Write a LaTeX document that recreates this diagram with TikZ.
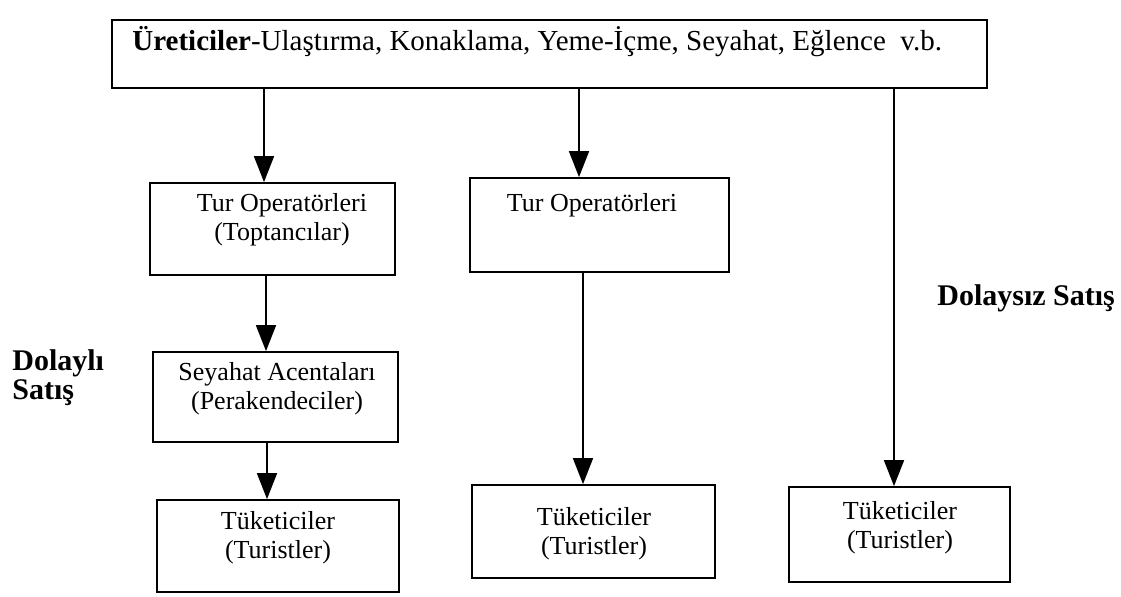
\documentclass[tikz,border=0pt]{standalone}
\usepackage{fontspec}
\setmainfont{Liberation Serif}
\usetikzlibrary{arrows.meta}
\begin{document}
\begin{tikzpicture}[x=0.5pt,y=-0.5pt,
  box/.style={draw, line width=0.9pt, inner sep=0pt},
  txt/.style={align=center, inner sep=0pt, font=\fontsize{13}{14.5}\selectfont},
  side/.style={align=left, inner sep=0pt, font=\fontsize{15}{15}\selectfont\bfseries},
  arr/.style={line width=0.9pt, -{Triangle[width=10pt,length=13pt]}}]
\useasboundingbox (0,0) rectangle (1121,596);

% producers
\node[box, minimum width=437.5pt, minimum height=34pt] (top) at (549.5,54) {};
\node[anchor=base west, inner sep=0pt, font=\fontsize{14.5}{16}\selectfont] (topT) at (132,50)
  {\textbf{Üreticiler}-Ulaştırma, Konaklama, Yeme-İçme, Seyahat, Eğlence\ \ v.b.};

% indirect channel
\node[box, minimum width=122.5pt, minimum height=46pt] (lto) at (272.5,229) {};
\node[txt] (ltoT) at (282,219.5) {Tur Operatörleri\\(Toptancılar)};
\node[box, minimum width=122.5pt, minimum height=45pt] (sey) at (275.5,397) {};
\node[txt] (seyT) at (277,389) {Seyahat Acentaları\\(Perakendeciler)};
\node[box, minimum width=121pt, minimum height=46pt] (ltk) at (278,546) {};
\node[txt] (ltkT) at (278,538) {Tüketiciler\\(Turistler)};

% tour operator channel
\node[box, minimum width=129.5pt, minimum height=47pt] (mto) at (599.5,225) {};
\node[txt] (mtoT) at (592,205) {Tur Operatörleri};
\node[box, minimum width=121.5pt, minimum height=46.5pt] (mtk) at (593.5,531.5) {};
\node[txt] (mtkT) at (594,534) {Tüketiciler\\(Turistler)};

% direct channel
\node[box, minimum width=110.5pt, minimum height=47.5pt] (rtk) at (899.5,534.5) {};
\node[txt] (rtkT) at (900,527.5) {Tüketiciler\\(Turistler)};

% side labels
\node[side, anchor=west] (dol) at (12,378) {Dolaylı\\[-0.5pt]Satış};
\node[side, anchor=west] (dsz) at (937,298) {Dolaysız Satış};

% arrow columns
\coordinate (c1) at (264,0);
\coordinate (c2) at (266,0);
\coordinate (c3) at (267,0);
\coordinate (c4) at (579,0);
\coordinate (c5) at (583,0);
\coordinate (c6) at (894,0);

\draw[arr] (top.south -| c1) -- (lto.north -| c1);
\draw[arr] (lto.south -| c2) -- (sey.north -| c2);
\draw[arr] (sey.south -| c3) -- (ltk.north -| c3);
\draw[arr] (top.south -| c4) -- (mto.north -| c4);
\draw[arr] (mto.south -| c5) -- (mtk.north -| c5);
\draw[arr] (top.south -| c6) -- (rtk.north -| c6);
\end{tikzpicture}
\end{document}
